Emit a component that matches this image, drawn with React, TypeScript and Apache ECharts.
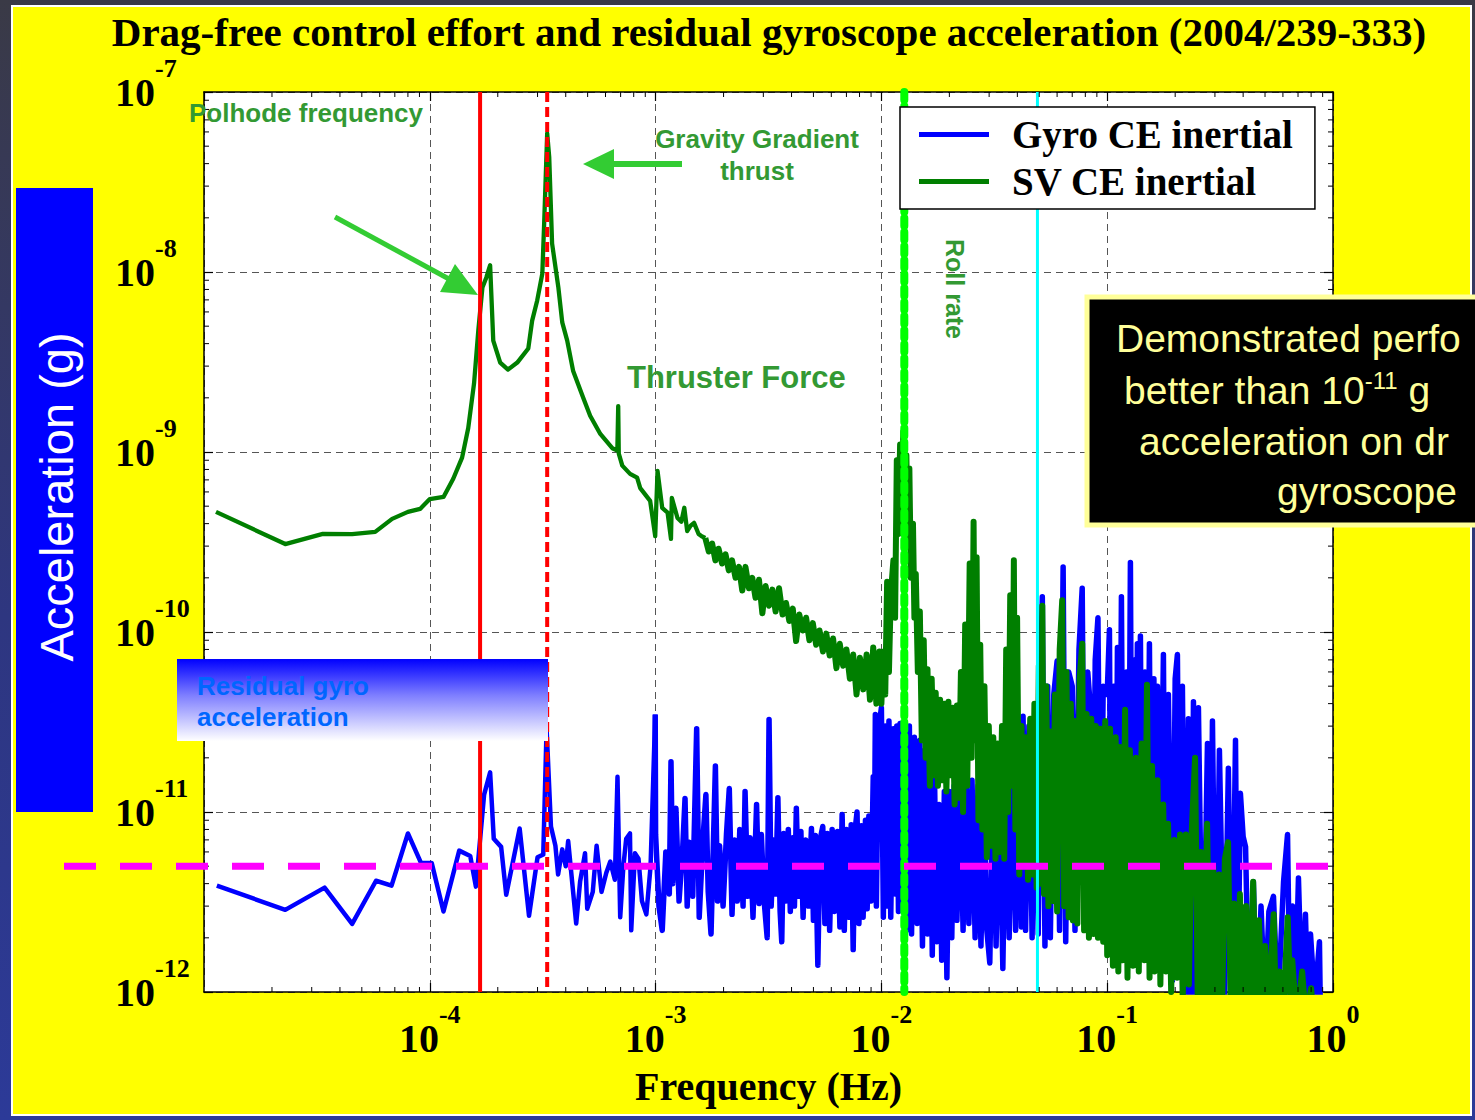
import React, { useEffect, useRef } from "react";
import * as echarts from "echarts";

const W = 1475;
const H = 1120;

const titleText = "Drag-free control effort and residual gyroscope acceleration (2004/239-333)";
const xAxisTitle = "Frequency (Hz)";
const yAxisTitle = "Acceleration (g)";
const seriesNames = ["Gyro CE inertial", "SV CE inertial"];
const xLabelExponents = [-4, -3, -2, -1, 0];
const yLabelExponents = [-12, -11, -10, -9, -8, -7];
const xMin = 1e-5;
const xMax = 1;
const yMin = 1e-12;
const yMax = 1e-7;
const minorMultipliers = [2, 3, 4, 5, 6, 7, 8, 9];

// reference lines
const polhodeFreq = 1.67e-4;
const gravityGradientFreq = 3.31e-4;
const rollRateFreq = 1.263e-2;
const cyanFreq = 4.91e-2;
const requirementLevel = 5e-12;

// annotation texts
const polhodeText = "Polhode frequency";
const gravityText = ["Gravity Gradient", "thrust"];
const rollText = "Roll rate";
const thrusterText = "Thruster Force";
const residualText = ["Residual gyro", "acceleration"];
const demoLines = ["Demonstrated perfo", "better than 10", "-11", " g", "acceleration on dr", "gyroscope"];

// Gyro CE inertial (blue)
const gyroLow = [
  [1.14e-5, 3.9e-12], [2.29e-5, 2.86e-12], [3.42e-5, 3.8e-12], [4.53e-5, 2.39e-12], [5.78e-5, 4.15e-12],
  [6.77e-5, 3.9e-12], [8.0e-5, 7.6e-12], [9.15e-5, 5.2e-12], [1.02e-4, 5.2e-12], [1.15e-4, 2.8e-12],
  [1.35e-4, 6.1e-12], [1.51e-4, 5.7e-12], [1.6e-4, 3.85e-12], [1.74e-4, 1.25e-11], [1.85e-4, 1.66e-11],
  [1.92e-4, 7.1e-12], [2.07e-4, 6.4e-12], [2.18e-4, 3.47e-12], [2.5e-4, 8.1e-12], [2.75e-4, 2.65e-12],
  [3.0e-4, 5.6e-12], [3.18e-4, 5.8e-12], [3.29e-4, 2.9e-11], [3.44e-4, 8.3e-12], [3.6e-4, 6.5e-12],
  [3.7e-4, 4.5e-12], [3.86e-4, 6.2e-12], [4.0e-4, 5.0e-12], [4.1e-4, 6.9e-12], [4.45e-4, 2.4e-12],
  [4.63e-4, 4.1e-12], [4.87e-4, 5.9e-12], [4.98e-4, 2.9e-12], [5.27e-4, 3.6e-12], [5.48e-4, 6.5e-12],
  [5.76e-4, 3.6e-12], [6.05e-4, 4.6e-12], [6.3e-4, 5.3e-12], [6.6e-4, 4.2e-12], [6.78e-4, 1.57e-11],
  [6.97e-4, 2.6e-12], [7.2e-4, 5.0e-12], [7.41e-4, 7.1e-12], [7.7e-4, 7.6e-12], [7.8e-4, 2.2e-12],
  [8.1e-4, 5.9e-12], [8.4e-4, 5.5e-12], [8.7e-4, 3.2e-12], [9.1e-4, 2.7e-12], [9.5e-4, 5.0e-12],
  [9.96e-4, 3.48e-11],
];
const gyroDecade3 = [
  [1.0e-3, 7.5e-12], [1.035e-3, 3.0e-12], [1.07e-3, 2.2e-12], [1.11e-3, 6.0e-12], [1.15e-3, 3.5e-12],
  [1.17e-3, 1.9e-11], [1.19e-3, 4.0e-12], [1.23e-3, 1.05e-11], [1.27e-3, 3.2e-12], [1.32e-3, 6.5e-12],
  [1.35e-3, 1.19e-11], [1.38e-3, 3.0e-12], [1.41e-3, 6.8e-12], [1.46e-3, 3.4e-12], [1.52e-3, 2.9e-11],
  [1.56e-3, 2.6e-12], [1.62e-3, 7.0e-12], [1.67e-3, 1.25e-11], [1.71e-3, 3.6e-12], [1.76e-3, 2.1e-12],
  [1.84e-3, 1.8e-11], [1.88e-3, 3.2e-12], [1.92e-3, 6.5e-12], [1.99e-3, 3.0e-12], [2.06e-3, 7.5e-12],
  [2.12e-3, 1.35e-11], [2.18e-3, 2.7e-12], [2.24e-3, 7.0e-12], [2.3e-3, 3.2e-12], [2.36e-3, 8.0e-12],
  [2.44e-3, 3.0e-12], [2.49e-3, 1.3e-11], [2.56e-3, 3.4e-12], [2.62e-3, 7.2e-12], [2.7e-3, 2.6e-12],
  [2.8e-3, 1.1e-11], [2.87e-3, 3.1e-12], [2.94e-3, 7.5e-12], [3.02e-3, 3.3e-12], [3.12e-3, 2.0e-12],
  [3.18e-3, 3.27e-11], [3.25e-3, 3.0e-12], [3.33e-3, 7.0e-12], [3.4e-3, 3.5e-12], [3.48e-3, 1.2e-11],
  [3.56e-3, 2.8e-12], [3.62e-3, 1.9e-12], [3.69e-3, 7.6e-12], [3.78e-3, 3.2e-12], [3.87e-3, 8.0e-12],
  [3.95e-3, 2.8e-12], [4.05e-3, 7.2e-12], [4.12e-3, 3.0e-12], [4.2e-3, 1.05e-11], [4.3e-3, 3.4e-12],
  [4.4e-3, 7.8e-12], [4.5e-3, 2.6e-12], [4.62e-3, 7.0e-12], [4.75e-3, 3.0e-12], [4.9e-3, 8.1e-12],
  [5.0e-3, 2.5e-12], [5.1e-3, 7.4e-12], [5.23e-3, 1.41e-12], [5.35e-3, 7.0e-12], [5.5e-3, 8.3e-12],
  [5.62e-3, 2.4e-12], [5.76e-3, 7.6e-12], [5.9e-3, 2.2e-12], [6.05e-3, 8.0e-12], [6.2e-3, 2.8e-12],
  [6.39e-3, 7.8e-12], [6.55e-3, 2.3e-12], [6.7e-3, 9.7e-12], [6.85e-3, 2.2e-12], [7.0e-3, 8.0e-12],
  [7.2e-3, 2.6e-12], [7.35e-3, 8.5e-12], [7.5e-3, 1.72e-12], [7.65e-3, 8.0e-12], [7.8e-3, 1.0e-11],
  [7.95e-3, 2.4e-12], [8.15e-3, 8.4e-12], [8.3e-3, 2.6e-12], [8.5e-3, 9.0e-12], [8.65e-3, 2.9e-12],
  [8.8e-3, 9.5e-12], [9.0e-3, 3.2e-12], [9.2e-3, 1.57e-11], [9.3e-3, 4.5e-12], [9.4e-3, 3.48e-11],
  [9.5e-3, 3.0e-12], [9.7e-3, 2.8e-11],
];
const gyroDecade2 = [
  [1.0e-2, 3.8e-11], [1.02e-2, 2.6e-12], [1.04e-2, 3.0e-11], [1.06e-2, 3.0e-12], [1.08e-2, 3.2e-11],
  [1.1e-2, 2.6e-12], [1.13e-2, 2.9e-11], [1.15e-2, 3.5e-12], [1.17e-2, 3.0e-11], [1.19e-2, 2.8e-12],
  [1.21e-2, 3.1e-11], [1.23e-2, 3.0e-12], [1.26e-2, 3.0e-11], [1.29e-2, 2.2e-12], [1.33e-2, 3.0e-11],
  [1.36e-2, 2.1e-12], [1.4e-2, 2.6e-11], [1.44e-2, 2.4e-12], [1.48e-2, 2.5e-11], [1.52e-2, 1.8e-12],
  [1.56e-2, 2.2e-11], [1.6e-2, 2.1e-12], [1.64e-2, 2.0e-11], [1.68e-2, 1.6e-12], [1.72e-2, 1.5e-11],
  [1.76e-2, 1.9e-12], [1.8e-2, 1.1e-11], [1.85e-2, 1.5e-12], [1.9e-2, 1.3e-11], [1.95e-2, 1.2e-12],
  [2.0e-2, 1.3e-11], [2.05e-2, 2.0e-12], [2.1e-2, 1.4e-11], [2.16e-2, 2.5e-12], [2.23e-2, 1.5e-11],
  [2.3e-2, 2.2e-12], [2.37e-2, 1.6e-11], [2.44e-2, 2.4e-12], [2.52e-2, 1.5e-11], [2.6e-2, 2.0e-12],
  [2.68e-2, 1.4e-11], [2.76e-2, 1.8e-12], [2.85e-2, 1.3e-11], [2.93e-2, 2.2e-12], [3.02e-2, 1.45e-12],
  [3.12e-2, 1.4e-11], [3.22e-2, 1.8e-12], [3.33e-2, 1.5e-11], [3.45e-2, 1.35e-12], [3.56e-2, 1.6e-11],
  [3.68e-2, 2.0e-12], [3.8e-2, 1.8e-11], [3.93e-2, 2.2e-12], [4.06e-2, 2.5e-11], [4.17e-2, 2.3e-12],
  [4.24e-2, 3.4e-11], [4.35e-2, 2.2e-12], [4.5e-2, 3.0e-11], [4.65e-2, 2.0e-12], [4.8e-2, 4.0e-11],
  [4.95e-2, 2.1e-12], [5.08e-2, 6.0e-11], [5.16e-2, 1.57e-10], [5.3e-2, 1.8e-12], [5.45e-2, 5.0e-11],
  [5.6e-2, 2.0e-12], [5.8e-2, 4.5e-11], [6.0e-2, 6.9e-11], [6.15e-2, 2.2e-12], [6.38e-2, 2.3e-10],
  [6.55e-2, 1.9e-12], [6.75e-2, 6.0e-11], [7.0e-2, 5.0e-11], [7.2e-2, 2.2e-12], [7.5e-2, 8.0e-11],
  [7.75e-2, 1.75e-10], [7.95e-2, 2.4e-12], [8.2e-2, 6.0e-11], [8.4e-2, 4.0e-11], [8.65e-2, 2.5e-12],
  [8.85e-2, 7.0e-11], [9.1e-2, 1.2e-10], [9.35e-2, 2.5e-12], [9.6e-2, 5.0e-11], [9.8e-2, 4.5e-11],
];
const gyroDecade1 = [
  [0.1, 4.5e-11], [0.1023, 1.03e-10], [0.104, 2.4e-12], [0.107, 5.0e-11], [0.109, 2.2e-12],
  [0.111, 8.2e-11], [0.113, 2.0e-12], [0.1156, 1.57e-10], [0.118, 2.3e-12], [0.1217, 6.0e-11],
  [0.124, 2.1e-12], [0.1267, 2.43e-10], [0.129, 2.0e-12], [0.132, 7.0e-11], [0.134, 2.2e-12],
  [0.136, 8.6e-11], [0.138, 1.9e-12], [0.1403, 9.5e-11], [0.143, 2.2e-12], [0.147, 6.0e-11],
  [0.15, 2.0e-12], [0.1538, 8.6e-11], [0.157, 2.3e-12], [0.161, 5.5e-11], [0.164, 2.0e-12],
  [0.1669, 5.0e-11], [0.171, 1.9e-12], [0.1774, 7.5e-11], [0.181, 1.8e-12], [0.1866, 4.5e-11],
  [0.1945, 1.16e-12], [0.2, 5.5e-11], [0.2046, 7.5e-11], [0.21, 1.3e-12], [0.2153, 5.0e-11],
  [0.222, 8e-13], [0.2289, 3.3e-11], [0.235, 7e-13], [0.241, 4.1e-11], [0.247, 8e-13],
  [0.2535, 3.8e-11], [0.265, 7e-13], [0.278, 2.4e-11], [0.285, 8e-13], [0.2925, 3.2e-11],
  [0.303, 7e-13], [0.314, 2.2e-11], [0.33, 8e-13], [0.344, 1.75e-11], [0.356, 7e-13],
  [0.37, 2.5e-11], [0.378, 8e-13], [0.389, 1.27e-11], [0.4, 7.3e-12], [0.41, 6.4e-12],
  [0.425, 7e-13], [0.444, 4.1e-12], [0.46, 7e-13], [0.48, 3.0e-12], [0.5, 8e-13],
  [0.52, 2.8e-12], [0.545, 3.4e-12], [0.57, 8e-13], [0.604, 4.1e-12], [0.629, 7.5e-12],
  [0.645, 8e-13], [0.661, 3.0e-12], [0.68, 8e-13], [0.703, 4.3e-12], [0.73, 8e-13],
  [0.755, 2.7e-12], [0.775, 8e-13], [0.795, 2.1e-12], [0.83, 9e-13], [0.871, 1.9e-12],
  [0.88, 7e-13],
];

// SV CE inertial (green)
const svLow = [
  [1.13e-5, 4.65e-10], [2.29e-5, 3.08e-10], [3.36e-5, 3.51e-10], [4.53e-5, 3.5e-10], [5.73e-5, 3.6e-10],
  [6.81e-5, 4.25e-10], [8.0e-5, 4.65e-10], [9.06e-5, 4.83e-10], [1.0e-4, 5.48e-10], [1.15e-4, 5.63e-10],
  [1.27e-4, 7.1e-10], [1.39e-4, 9.3e-10], [1.48e-4, 1.36e-9], [1.57e-4, 2.4e-9], [1.64e-4, 4.73e-9],
  [1.71e-4, 8.2e-9], [1.78e-4, 9.33e-9], [1.85e-4, 1.09e-8], [1.91e-4, 4.16e-9], [2.05e-4, 3.14e-9],
  [2.22e-4, 2.87e-9], [2.44e-4, 3.14e-9], [2.73e-4, 3.76e-9], [2.84e-4, 5.37e-9], [2.99e-4, 6.95e-9],
  [3.15e-4, 9.8e-9], [3.21e-4, 1.87e-8], [3.31e-4, 5.9e-8], [3.38e-4, 4.34e-8], [3.48e-4, 1.44e-8],
  [3.71e-4, 8.2e-9], [3.86e-4, 5.25e-9], [4.06e-4, 4.16e-9], [4.31e-4, 2.83e-9], [4.78e-4, 2.0e-9],
  [5.13e-4, 1.59e-9], [5.69e-4, 1.26e-9], [6.43e-4, 1.05e-9], [6.77e-4, 1.02e-9], [6.83e-4, 1.8e-9],
  [6.87e-4, 9.8e-10], [7.12e-4, 8.4e-10], [7.71e-4, 7.56e-10], [8.28e-4, 7.2e-10], [8.55e-4, 6.3e-10],
  [9.46e-4, 5.35e-10], [9.96e-4, 3.41e-10], [1.02e-3, 7.85e-10], [1.07e-3, 4.89e-10], [1.13e-3, 4.6e-10],
  [1.17e-3, 3.29e-10], [1.18e-3, 5.56e-10], [1.25e-3, 4.3e-10], [1.3e-3, 4.1e-10], [1.34e-3, 4.9e-10],
  [1.38e-3, 3.64e-10], [1.43e-3, 3.9e-10], [1.48e-3, 4.04e-10], [1.55e-3, 3.5e-10], [1.6e-3, 3.4e-10],
  [1.66e-3, 3.33e-10],
];
const svDecade3 = [
  [1.72e-3, 2.8e-10], [1.78e-3, 3.1e-10], [1.84e-3, 2.5e-10], [1.9e-3, 2.9e-10], [1.97e-3, 2.4e-10],
  [2.04e-3, 2.7e-10], [2.11e-3, 2.2e-10], [2.18e-3, 2.5e-10], [2.26e-3, 2.0e-10], [2.34e-3, 2.3e-10],
  [2.42e-3, 1.7e-10], [2.5e-3, 2.3e-10], [2.59e-3, 1.75e-10], [2.68e-3, 2.0e-10], [2.77e-3, 1.55e-10],
  [2.87e-3, 1.95e-10], [2.97e-3, 1.27e-10], [3.07e-3, 1.8e-10], [3.18e-3, 1.4e-10], [3.29e-3, 1.72e-10],
  [3.4e-3, 1.3e-10], [3.52e-3, 1.75e-10], [3.65e-3, 1.25e-10], [3.78e-3, 1.45e-10], [3.91e-3, 1.15e-10],
  [4.05e-3, 1.35e-10], [4.19e-3, 8.9e-11], [4.33e-3, 1.25e-10], [4.48e-3, 1.02e-10], [4.64e-3, 1.2e-10],
  [4.8e-3, 9.0e-11], [4.97e-3, 1.12e-10], [5.14e-3, 8.5e-11], [5.32e-3, 1.02e-10], [5.51e-3, 7.8e-11],
  [5.7e-3, 9.8e-11], [5.9e-3, 7.4e-11], [6.11e-3, 9.2e-11], [6.32e-3, 6.3e-11], [6.54e-3, 8.6e-11],
  [6.77e-3, 6.5e-11], [7.0e-3, 8.0e-11], [7.25e-3, 5.5e-11], [7.5e-3, 7.5e-11], [7.76e-3, 4.5e-11],
  [8.03e-3, 7.2e-11], [8.31e-3, 4.8e-11], [8.6e-3, 7.5e-11], [8.9e-3, 4.2e-11], [9.2e-3, 8.2e-11],
  [9.5e-3, 4.0e-11], [9.8e-3, 7.8e-11],
];
const svDecade2 = [
  [1.0e-2, 4.0e-11], [1.02e-2, 7.8e-11], [1.04e-2, 4.5e-11], [1.06e-2, 1.9e-10], [1.08e-2, 6.0e-11],
  [1.1e-2, 1.6e-10], [1.13e-2, 2.5e-10], [1.15e-2, 1.2e-10], [1.17e-2, 9.0e-10], [1.19e-2, 3.5e-10],
  [1.21e-2, 1.1e-9], [1.23e-2, 4.0e-10], [1.25e-2, 1.3e-9], [1.27e-2, 5.0e-10], [1.29e-2, 9.6e-10],
  [1.31e-2, 3.0e-10], [1.33e-2, 8.1e-10], [1.35e-2, 2.0e-10], [1.38e-2, 4.0e-10], [1.4e-2, 1.2e-10],
  [1.42e-2, 2.1e-10], [1.45e-2, 6.0e-11], [1.48e-2, 1.3e-10], [1.51e-2, 2.5e-11], [1.54e-2, 9.0e-11],
  [1.57e-2, 2.0e-11], [1.6e-2, 6.2e-11], [1.64e-2, 1.4e-11], [1.67e-2, 5.5e-11], [1.71e-2, 1.6e-11],
  [1.74e-2, 4.6e-11], [1.78e-2, 1.4e-11], [1.82e-2, 4.2e-11], [1.86e-2, 1.5e-11], [1.9e-2, 4.0e-11],
  [1.94e-2, 1.3e-11], [1.98e-2, 4.1e-11], [2.02e-2, 1.6e-11], [2.07e-2, 3.8e-11], [2.11e-2, 1.1e-11],
  [2.16e-2, 3.9e-11], [2.2e-2, 1.2e-11], [2.25e-2, 6.0e-11], [2.3e-2, 1.0e-11], [2.35e-2, 1.1e-10],
  [2.4e-2, 1.4e-11], [2.46e-2, 2.4e-10], [2.51e-2, 2.0e-11], [2.56e-2, 4.1e-10], [2.6e-2, 2.5e-11],
  [2.64e-2, 2.6e-10], [2.69e-2, 9.0e-12], [2.74e-2, 8.5e-11], [2.8e-2, 8.0e-12], [2.86e-2, 5.0e-11],
  [2.93e-2, 5.6e-12], [2.99e-2, 3.0e-11], [3.06e-2, 6.5e-12], [3.13e-2, 2.6e-11], [3.2e-2, 5.5e-12],
  [3.27e-2, 2.4e-11], [3.34e-2, 6.0e-12], [3.42e-2, 3.0e-11], [3.5e-2, 5.5e-12], [3.57e-2, 8.0e-11],
  [3.64e-2, 1.0e-11], [3.72e-2, 1.6e-10], [3.8e-2, 1.4e-11], [3.86e-2, 2.5e-10], [3.92e-2, 8.0e-12],
  [3.99e-2, 1.2e-10], [4.08e-2, 4.5e-12], [4.17e-2, 3.0e-11], [4.26e-2, 5.0e-12], [4.36e-2, 2.6e-11],
  [4.46e-2, 4.2e-12], [4.56e-2, 3.3e-11], [4.66e-2, 4.5e-12], [4.76e-2, 4.0e-11], [4.87e-2, 3.8e-12],
  [4.98e-2, 6.5e-11], [5.09e-2, 4.0e-12], [5.16e-2, 1.4e-10], [5.25e-2, 3.5e-12], [5.37e-2, 5.0e-11],
  [5.49e-2, 3.0e-12], [5.6e-2, 2.8e-11], [5.74e-2, 3.2e-12], [5.87e-2, 4.5e-11], [6.0e-2, 2.8e-12],
  [6.16e-2, 8.0e-11], [6.32e-2, 1.5e-10], [6.45e-2, 3.0e-12], [6.6e-2, 6.0e-11], [6.75e-2, 2.6e-12],
  [6.9e-2, 4.0e-11], [7.05e-2, 2.5e-12], [7.2e-2, 3.2e-11], [7.38e-2, 2.4e-12], [7.55e-2, 5.5e-11],
  [7.75e-2, 8.6e-11], [7.9e-2, 2.2e-12], [8.1e-2, 3.5e-11], [8.3e-2, 2.0e-12], [8.5e-2, 3.3e-11],
  [8.7e-2, 2.1e-12], [8.9e-2, 3.0e-11], [9.1e-2, 2.0e-12], [9.35e-2, 2.9e-11], [9.6e-2, 1.9e-12],
  [9.8e-2, 3.2e-11],
];
const svDecade1 = [
  [0.1, 1.6e-12], [0.103, 2.9e-11], [0.106, 1.4e-12], [0.109, 2.6e-11], [0.112, 1.3e-12],
  [0.114, 2.3e-11], [0.117, 1.5e-12], [0.12, 3.7e-11], [0.123, 1.2e-12], [0.126, 2.2e-11],
  [0.13, 1.4e-12], [0.134, 2.0e-11], [0.138, 1.3e-12], [0.142, 2.4e-11], [0.146, 1.5e-12],
  [0.15, 5.1e-11], [0.154, 1.2e-12], [0.158, 1.8e-11], [0.162, 1.3e-12], [0.167, 1.5e-11],
  [0.172, 1.1e-12], [0.177, 1.1e-11], [0.182, 1.3e-12], [0.186, 8.6e-12], [0.192, 1.0e-12],
  [0.198, 7.0e-12], [0.204, 1.2e-12], [0.21, 7.5e-12], [0.216, 9e-13], [0.223, 7.5e-12],
  [0.23, 1.1e-12], [0.237, 8.0e-12], [0.245, 2.0e-11], [0.252, 8e-13], [0.26, 6.0e-12],
  [0.268, 9e-13], [0.277, 8.6e-12], [0.285, 8e-13], [0.295, 5.0e-12], [0.303, 8e-13],
  [0.313, 4.5e-12], [0.322, 7e-13], [0.332, 5.5e-12], [0.343, 6.8e-12], [0.353, 7e-13],
  [0.364, 3.1e-12], [0.376, 8e-13], [0.387, 3.5e-12], [0.4, 7e-13], [0.412, 3.0e-12],
  [0.425, 7e-13], [0.443, 4.1e-12], [0.456, 8e-13], [0.47, 2.5e-12], [0.485, 7e-13],
  [0.5, 1.8e-12], [0.52, 8e-13], [0.546, 2.7e-12], [0.56, 7e-13], [0.58, 1.3e-12],
  [0.6, 7e-13], [0.63, 2.6e-12], [0.65, 8e-13], [0.66, 1.5e-12], [0.69, 7e-13],
  [0.73, 1.3e-12], [0.76, 7e-13], [0.8, 1.05e-12], [0.82, 7e-13],
];

// smooth low-frequency part and dense noisy part of each trace (joined at a shared point)
const gyroSmooth = gyroLow;
const gyroNoisy = [gyroLow[gyroLow.length - 1], ...gyroDecade3, ...gyroDecade2, ...gyroDecade1];
const svSmooth = svLow;
const svNoisy = [svLow[svLow.length - 1], ...svDecade3, ...svDecade2, ...svDecade1];

const SERIF = "'Liberation Serif','Times New Roman',serif";
const SANS = "'Liberation Sans',Arial,Helvetica,sans-serif";

export default function App() {
  const ref = useRef<HTMLDivElement>(null);

  useEffect(() => {
    document.body.style.margin = "0";
    const el = ref.current;
    if (!el) return;
    const chart = echarts.init(el, undefined, { renderer: "svg", width: W, height: H });

    const rich = {
      b: { fontFamily: SERIF, fontWeight: "bold", fontSize: 40, lineHeight: 40, color: "#000" },
      e: { fontFamily: SERIF, fontWeight: "bold", fontSize: 26, lineHeight: 26, padding: [0, 0, 47, 0], color: "#000" },
    };
    const fmt = (allowed: number[]) => (v: number) => {
      const p = Math.round(Math.log10(v));
      return allowed.includes(p) ? `{b|10}{e|${p}}` : "";
    };

    const logX = { type: "log", logBase: 10, min: xMin, max: xMax };
    const logY = { type: "log", logBase: 10, min: yMin, max: yMax };
    const axisLine = { show: true, lineStyle: { color: "#000", width: 1.5 } };
    const tick = { show: true, inside: true, length: 9, lineStyle: { color: "#000", width: 1.2 } };
    const split = { show: true, lineStyle: { color: "#555", width: 1, type: [7, 5] } };

    const blue = "#0000FF";
    const dkGreen = "#007F00";
    const lineSeries = (name: string, data: number[][], color: string, width: number) => ({
      name,
      type: "line",
      data,
      symbol: "none",
      clip: true,
      lineStyle: { color, width, join: "round" },
      itemStyle: { color },
      z: 2,
    });

    chart.setOption({
      animation: false,
      backgroundColor: "transparent",
      title: {
        text: titleText,
        left: 764,
        top: 7,
        textAlign: "center",
        textStyle: { fontFamily: SERIF, fontWeight: "bold", fontSize: 41, lineHeight: 40, color: "#000" },
      },
      grid: {
        left: 204,
        right: 142,
        top: 92,
        bottom: 128,
        show: true,
        backgroundColor: "#fff",
        borderWidth: 0,
        containLabel: false,
        outerBoundsMode: "none",
      },
      legend: {
        data: seriesNames,
        orient: "vertical",
        left: 900,
        top: 107,
        z: 10,
        icon: "rect",
        itemWidth: 70,
        itemHeight: 5,
        itemGap: 8,
        padding: [8, 22, 8, 19],
        backgroundColor: "#fff",
        borderColor: "#000",
        borderWidth: 1.5,
        textStyle: { fontFamily: SERIF, fontWeight: "bold", fontSize: 39, color: "#000", padding: [0, 0, 0, 18] },
      },
      xAxis: [
        {
          ...logX,
          position: "bottom",
          name: xAxisTitle,
          nameLocation: "middle",
          nameGap: 74,
          nameMoveOverlap: false,
          nameTextStyle: { fontFamily: SERIF, fontWeight: "bold", fontSize: 40, color: "#000" },
          axisLine,
          axisTick: tick,
          splitLine: split,
          axisLabel: { show: true, margin: 26, showMinLabel: false, formatter: fmt(xLabelExponents), rich },
        },
        {
          ...logX,
          position: "top",
          axisLine,
          axisTick: tick,
          splitLine: { show: false },
          axisLabel: { show: false },
        },
      ],
      yAxis: [
        {
          ...logY,
          position: "left",
          axisLine,
          axisTick: tick,
          splitLine: split,
          axisLabel: { show: true, align: "left", margin: 89, formatter: fmt(yLabelExponents), rich },
        },
        {
          ...logY,
          position: "right",
          axisLine,
          axisTick: tick,
          splitLine: { show: false },
          axisLabel: { show: false },
        },
      ],
      series: [
        lineSeries(seriesNames[0], gyroSmooth, blue, 4.5),
        lineSeries(seriesNames[0], gyroNoisy, blue, 5.5),
        lineSeries(seriesNames[1], svSmooth, dkGreen, 4.3),
        lineSeries(seriesNames[1], svNoisy, dkGreen, 6),
      ],
    });

    const xs = (v: number) => chart.convertToPixel({ xAxisIndex: 0 }, v) as number;
    const ys = (v: number) => chart.convertToPixel({ yAxisIndex: 0 }, v) as number;
    const left = xs(xMin);
    const right = xs(xMax);
    const top = ys(yMax);
    const bottom = ys(yMin);

    const g: any[] = [];
    const tickLine = (x1: number, y1: number, x2: number, y2: number) => ({
      type: "line",
      silent: true,
      z: 6,
      shape: { x1, y1, x2, y2 },
      style: { stroke: "#000", lineWidth: 1 },
    });
    const x0 = Math.round(Math.log10(xMin));
    const x1e = Math.round(Math.log10(xMax));
    for (let p = x0; p < x1e; p++) {
      for (const m of minorMultipliers) {
        const x = xs(m * Math.pow(10, p));
        g.push(tickLine(x, bottom, x, bottom - 5));
        g.push(tickLine(x, top, x, top + 5));
      }
    }
    const y0 = Math.round(Math.log10(yMin));
    const y1e = Math.round(Math.log10(yMax));
    for (let p = y0; p < y1e; p++) {
      for (const m of minorMultipliers) {
        const y = ys(m * Math.pow(10, p));
        g.push(tickLine(left, y, left + 5, y));
        g.push(tickLine(right, y, right - 5, y));
      }
    }

    // vertical reference lines
    const vLine = (f: number, style: any) => {
      const x = xs(f);
      return { type: "line", silent: true, z: 5, shape: { x1: x, y1: top, x2: x, y2: bottom }, style };
    };
    g.push(vLine(polhodeFreq, { stroke: "#FF0000", lineWidth: 4 }));
    g.push(vLine(gravityGradientFreq, { stroke: "#FF0000", lineWidth: 4, lineDash: [10, 5] }));
    g.push(vLine(rollRateFreq, { stroke: "#00FF00", lineWidth: 8, lineDash: [8, 6], lineCap: "round" }));
    g.push(vLine(cyanFreq, { stroke: "#00FFFF", lineWidth: 3 }));

    // y-axis title box
    g.push({ type: "rect", z: 10, shape: { x: 16, y: 188, width: 77, height: 624 }, style: { fill: "#0000FF" } });
    g.push({
      type: "text",
      z: 11,
      x: 56,
      y: 497,
      rotation: Math.PI / 2,
      style: { text: yAxisTitle, fill: "#fff", fontFamily: SANS, fontSize: 47, align: "center", verticalAlign: "middle" },
    });

    const green = "#339933";
    const arrow = "#33CC33";
    // Polhode
    g.push({
      type: "text", z: 15, x: 189, y: 113,
      style: { text: polhodeText, fill: green, fontFamily: SANS, fontWeight: "bold", fontSize: 26, align: "left", verticalAlign: "middle" },
    });
    g.push({ type: "line", z: 15, shape: { x1: 335, y1: 217, x2: 449, y2: 279 }, style: { stroke: arrow, lineWidth: 5 } });
    g.push({ type: "polygon", z: 15, shape: { points: [[478, 295], [440, 292], [455, 264]] }, style: { fill: arrow } });
    // Gravity gradient
    g.push({
      type: "text", z: 15, x: 757, y: 139,
      style: { text: gravityText[0], fill: green, fontFamily: SANS, fontWeight: "bold", fontSize: 26, align: "center", verticalAlign: "middle" },
    });
    g.push({
      type: "text", z: 15, x: 757, y: 171,
      style: { text: gravityText[1], fill: green, fontFamily: SANS, fontWeight: "bold", fontSize: 26, align: "center", verticalAlign: "middle" },
    });
    g.push({ type: "line", z: 15, shape: { x1: 682, y1: 164, x2: 610, y2: 164 }, style: { stroke: arrow, lineWidth: 6 } });
    g.push({ type: "polygon", z: 15, shape: { points: [[583, 164], [614, 149], [614, 179]] }, style: { fill: arrow } });
    // Roll rate
    g.push({
      type: "text", z: 15, x: 955, y: 289, rotation: -Math.PI / 2,
      style: { text: rollText, fill: green, fontFamily: SANS, fontWeight: "bold", fontSize: 25, align: "center", verticalAlign: "middle" },
    });
    // Thruster force
    g.push({
      type: "text", z: 15, x: 627, y: 377,
      style: { text: thrusterText, fill: green, fontFamily: SANS, fontWeight: "bold", fontSize: 31, align: "left", verticalAlign: "middle" },
    });

    // Requirement line (magenta dashed)
    const yReq = ys(requirementLevel);
    g.push({
      type: "line", z: 16, silent: true,
      shape: { x1: 64, y1: yReq, x2: 1328, y2: yReq },
      style: { stroke: "#FF00FF", lineWidth: 7, lineDash: [32, 24] },
    });

    // Residual gyro acceleration box
    g.push({
      type: "rect", z: 20,
      shape: { x: 177, y: 659, width: 371, height: 82 },
      style: {
        fill: new echarts.graphic.LinearGradient(0, 0, 0, 1, [
          { offset: 0, color: "#0000FF" },
          { offset: 0.45, color: "#8080FF" },
          { offset: 1, color: "#FFFFFF" },
        ]),
      },
    });
    g.push({
      type: "text", z: 21, x: 197, y: 686,
      style: { text: residualText[0], fill: "#0066FF", fontFamily: SANS, fontWeight: "bold", fontSize: 26, align: "left", verticalAlign: "middle" },
    });
    g.push({
      type: "text", z: 21, x: 197, y: 717,
      style: { text: residualText[1], fill: "#0066FF", fontFamily: SANS, fontWeight: "bold", fontSize: 26, align: "left", verticalAlign: "middle" },
    });

    // Demonstrated performance box (cut by the right edge, as in the source)
    const pale = "#FFFF99";
    g.push({
      type: "rect", z: 20,
      shape: { x: 1087, y: 297, width: 420, height: 228 },
      style: { fill: "#000", stroke: pale, lineWidth: 5 },
    });
    const boxText = (x: number, y: number, text: string) => ({
      type: "text", z: 21, x, y,
      style: { text, fill: pale, fontFamily: SANS, fontSize: 39, align: "left", verticalAlign: "middle" },
    });
    g.push(boxText(1116, 338, demoLines[0]));
    g.push({
      type: "text", z: 21, x: 1124, y: 390,
      style: {
        text: `{a|${demoLines[1]}}{s|${demoLines[2]}}{a|${demoLines[3]}}`,
        align: "left",
        verticalAlign: "middle",
        rich: {
          a: { fill: pale, fontFamily: SANS, fontSize: 39, lineHeight: 39 },
          s: { fill: pale, fontFamily: SANS, fontSize: 24, lineHeight: 24, padding: [0, 0, 20, 0] },
        },
      },
    });
    g.push(boxText(1139, 441, demoLines[4]));
    g.push(boxText(1277, 491, demoLines[5]));

    chart.setOption({ graphic: g });

    return () => {
      chart.dispose();
    };
  }, []);

  return (
    <div
      style={{
        position: "relative",
        width: W,
        height: H,
        overflow: "hidden",
        background: "linear-gradient(180deg, #3a3a46 0%, #2e3680 55%, #2c3a98 100%)",
      }}
    >
      <div
        style={{
          position: "absolute",
          left: 11,
          top: 5,
          width: 1461,
          height: 1111,
          boxSizing: "border-box",
          border: "2px solid #ffffff",
          background: "#FFFF00",
        }}
      />
      <div ref={ref} style={{ position: "absolute", left: 0, top: 0, width: W, height: H }} />
    </div>
  );
}
